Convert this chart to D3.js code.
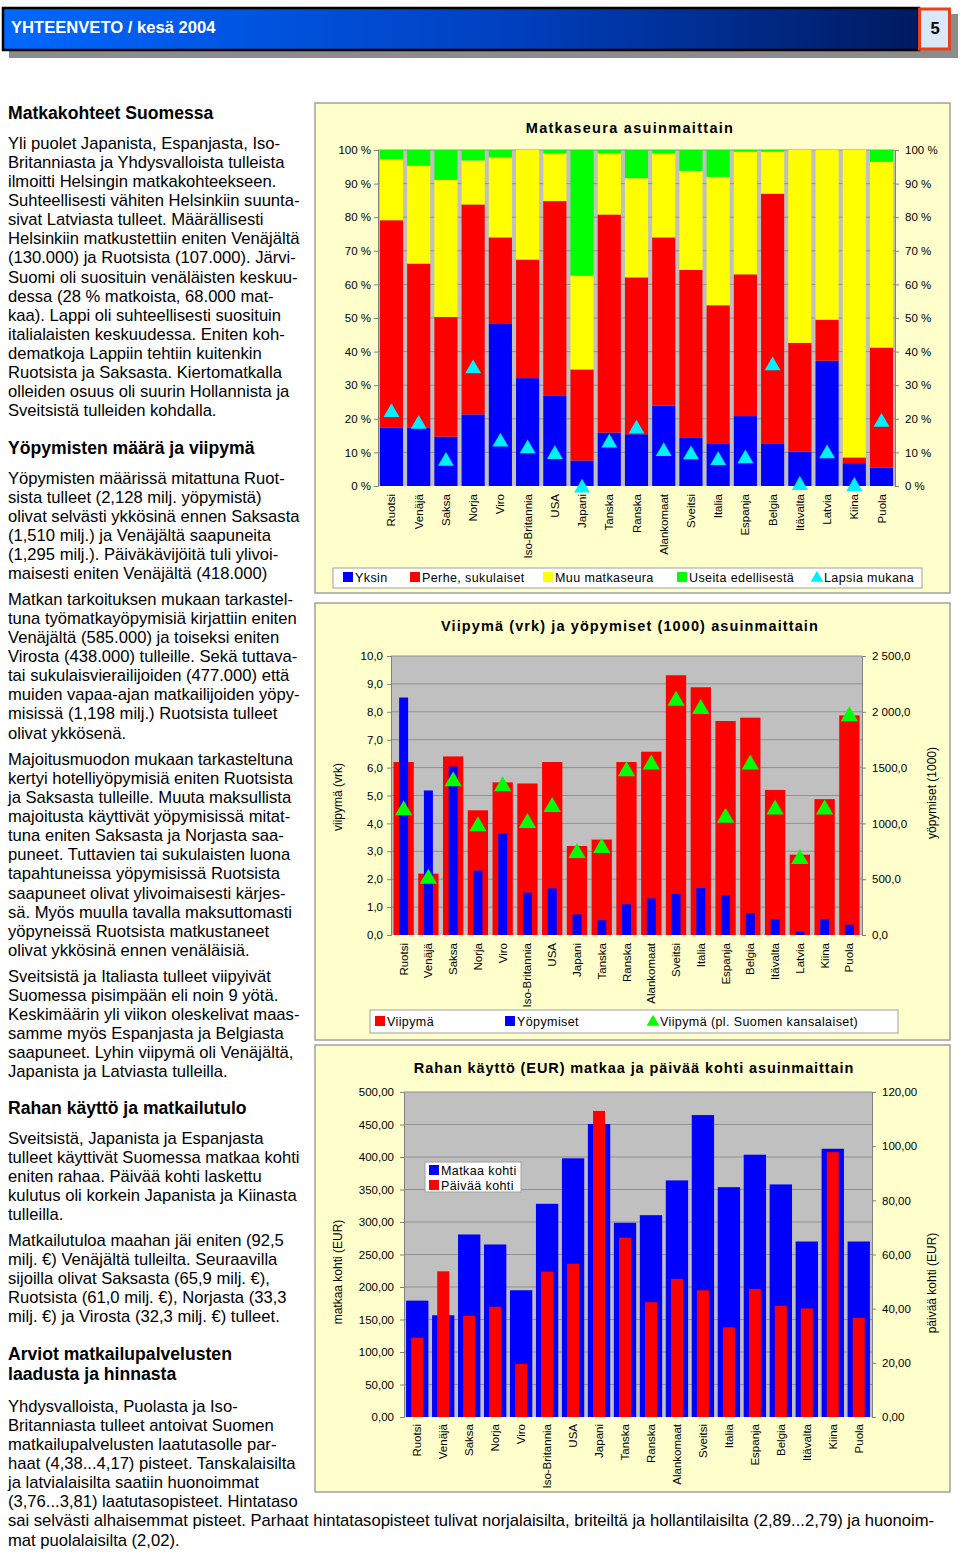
<!DOCTYPE html>
<html>
<head>
<meta charset="utf-8">
<script src="https://cdn.jsdelivr.net/npm/d3@7"></script>
<style>
  body { margin: 0; background: #fff; }
  svg text { font-family: "Liberation Sans", Arial, sans-serif; }
</style>
</head>
<body>
<svg id="page" width="960" height="1552"></svg>
<script>
// ---- data ----
const countries = ["Ruotsi", "Venäjä", "Saksa", "Norja", "Viro", "Iso-Britannia", "USA", "Japani", "Tanska",
  "Ranska", "Alankomaat", "Sveitsi", "Italia", "Espanja", "Belgia", "Itävalta", "Latvia", "Kiina", "Puola"];

// chart 1: travel company (%)
const yksin  = [17.3, 17.3, 14.7, 21.3, 48.2, 32.1, 26.8, 7.6, 15.9, 15.4, 23.9, 14.3, 12.5, 20.8, 12.5, 10.2, 37.3, 6.8, 5.5];
const perhe  = [61.8, 48.9, 35.6, 62.5, 25.8, 35.3, 58.0, 27.1, 64.9, 46.7, 50.1, 50.0, 41.3, 42.2, 74.5, 32.4, 12.2, 1.7, 35.7];
const muu    = [18.2, 29.1, 40.8, 13.1, 23.8, 32.6, 14.2, 27.9, 18.2, 29.5, 25.0, 29.5, 38.2, 36.5, 12.5, 57.4, 50.5, 91.5, 55.3];
const useita = [2.7, 4.7, 8.9, 3.1, 2.2, 0.0, 1.0, 37.4, 1.0, 8.4, 1.0, 6.2, 8.0, 0.5, 0.5, 0.0, 0.0, 0.0, 3.5];
const lapsia = [22.5, 19.0, 8.0, 35.5, 13.7, 11.7, 10.0, 0.0, 13.4, 17.6, 10.9, 9.9, 8.2, 8.7, 36.4, 0.8, 10.2, 0.5, 19.6];
const pctTicks = [0, 10, 20, 30, 40, 50, 60, 70, 80, 90, 100];

// chart 2: length of stay (days) and overnights (1000)
const viipyma   = [6.2, 2.2, 6.4, 4.47, 5.47, 5.43, 6.2, 3.19, 3.42, 6.2, 6.57, 9.31, 8.88, 7.67, 7.79, 5.2, 2.88, 4.87, 7.87];
const yopymiset = [2128, 1295, 1510, 577, 908, 380, 418, 185, 132, 275, 329, 367, 421, 356, 197, 143, 30, 143, 93];
const viipymaPl = [4.54, 2.09, 5.58, 3.97, 5.4, 4.09, 4.66, 3.01, 3.19, 5.94, 6.18, 8.47, 8.17, 4.27, 6.18, 4.57, 2.8, 4.57, 7.91];
const stayTicks = [0, 1, 2, 3, 4, 5, 6, 7, 8, 9, 10];
const stayTickLabels = ["0,0", "1,0", "2,0", "3,0", "4,0", "5,0", "6,0", "7,0", "8,0", "9,0", "10,0"];
const nightTicks = [0, 500, 1000, 1500, 2000, 2500];
const nightTickLabels = ["0,0", "500,0", "1000,0", "1500,0", "2 000,0", "2 500,0"];

// chart 3: spending (EUR), no Latvia
const countries3 = countries.filter(c => c !== "Latvia");
const matkaa = [179, 156.5, 280.8, 265.4, 195, 328, 398, 450.7, 298.8, 310.5, 364, 464.5, 353.6, 403.5, 357.8, 270, 412.7, 270];
const paivaa = [29.3, 53.8, 37.4, 40.7, 19.6, 53.7, 56.6, 113, 66.2, 42.4, 51, 46.8, 33.1, 47.3, 41.1, 40.1, 97.8, 36.6];
const eurTicks = [0, 50, 100, 150, 200, 250, 300, 350, 400, 450, 500];
const dayTicks = [0, 20, 40, 60, 80, 100, 120];

// page text
const headerText = "YHTEENVETO / kesä 2004";
const pageNo = "5";
const textBlocks = [
  { y: 119, bold: true, lines: ["Matkakohteet Suomessa"] },
  { y: 149, lines: ["Yli puolet Japanista, Espanjasta, Iso-", "Britanniasta ja Yhdysvalloista tulleista",
    "ilmoitti Helsingin matkakohteekseen.", "Suhteellisesti vähiten Helsinkiin suunta-",
    "sivat Latviasta tulleet. Määrällisesti", "Helsinkiin matkustettiin eniten Venäjältä",
    "(130.000) ja Ruotsista (107.000). Järvi-", "Suomi oli suosituin venäläisten keskuu-",
    "dessa (28 % matkoista, 68.000 mat-", "kaa). Lappi oli suhteellisesti suosituin",
    "italialaisten keskuudessa. Eniten koh-", "dematkoja Lappiin tehtiin kuitenkin",
    "Ruotsista ja Saksasta. Kiertomatkalla", "olleiden osuus oli suurin Hollannista ja",
    "Sveitsistä tulleiden kohdalla."] },
  { y: 454, bold: true, lines: ["Yöpymisten määrä ja viipymä"] },
  { y: 484, lines: ["Yöpymisten määrissä mitattuna Ruot-", "sista tulleet (2,128 milj. yöpymistä)",
    "olivat selvästi ykkösinä ennen Saksasta", "(1,510 milj.) ja Venäjältä saapuneita",
    "(1,295 milj.). Päiväkävijöitä tuli ylivoi-", "maisesti eniten Venäjältä (418.000)"] },
  { y: 605, lines: ["Matkan tarkoituksen mukaan tarkastel-", "tuna työmatkayöpymisiä kirjattiin eniten",
    "Venäjältä (585.000) ja toiseksi eniten", "Virosta (438.000) tulleille. Sekä tuttava-",
    "tai sukulaisvierailijoiden (477.000) että", "muiden vapaa-ajan matkailijoiden yöpy-",
    "misissä (1,198 milj.) Ruotsista tulleet", "olivat ykkösenä."] },
  { y: 765, lines: ["Majoitusmuodon mukaan tarkasteltuna", "kertyi hotelliyöpymisiä eniten Ruotsista",
    "ja Saksasta tulleille. Muuta maksullista", "majoitusta käyttivät yöpymisissä mitat-",
    "tuna eniten Saksasta ja Norjasta saa-", "puneet. Tuttavien tai sukulaisten luona",
    "tapahtuneissa yöpymisissä Ruotsista", "saapuneet olivat ylivoimaisesti kärjes-",
    "sä. Myös muulla tavalla maksuttomasti", "yöpyneissä Ruotsista matkustaneet",
    "olivat ykkösinä ennen venäläisiä."] },
  { y: 982, lines: ["Sveitsistä ja Italiasta tulleet viipyivät", "Suomessa pisimpään eli noin 9 yötä.",
    "Keskimäärin yli viikon oleskelivat maas-", "samme myös Espanjasta ja Belgiasta",
    "saapuneet. Lyhin viipymä oli Venäjältä,", "Japanista ja Latviasta tulleilla."] },
  { y: 1114, bold: true, lines: ["Rahan käyttö ja matkailutulo"] },
  { y: 1144, lines: ["Sveitsistä, Japanista ja Espanjasta", "tulleet käyttivät Suomessa matkaa kohti",
    "eniten rahaa. Päivää kohti laskettu", "kulutus oli korkein Japanista ja Kiinasta", "tulleilla."] },
  { y: 1246, lines: ["Matkailutuloa maahan jäi eniten (92,5", "milj. €) Venäjältä tulleilta. Seuraavilla",
    "sijoilla olivat Saksasta (65,9 milj. €),", "Ruotsista (61,0 milj. €), Norjasta (33,3",
    "milj. €) ja Virosta (32,3 milj. €) tulleet."] },
  { y: 1360, bold: true, lines: ["Arviot matkailupalvelusten", "laadusta ja hinnasta"] },
  { y: 1412, lines: ["Yhdysvalloista, Puolasta ja Iso-", "Britanniasta tulleet antoivat Suomen",
    "matkailupalvelusten laatutasolle par-", "haat (4,38...4,17) pisteet. Tanskalaisilta",
    "ja latvialaisilta saatiin huonoimmat", "(3,76...3,81) laatutasopisteet. Hintataso",
    "sai selvästi alhaisemmat pisteet. Parhaat hintatasopisteet tulivat norjalaisilta, briteiltä ja hollantilaisilta (2,89...2,79) ja huonoim-",
    "mat puolalaisilta (2,02)."] }
];

const C = { blue: "#0000ff", red: "#ff0000", yellow: "#ffff00", green: "#00ff00", cyan: "#00f0ff",
  panel: "#ffffcc", plot: "#c0c0c0", grid: "#909090" };

const svg = d3.select("#page");

// ---- header ----
const defs = svg.append("defs");
const grad = defs.append("linearGradient").attr("id", "hdr");
grad.append("stop").attr("offset", "0%").attr("stop-color", "#0068ff");
grad.append("stop").attr("offset", "55%").attr("stop-color", "#0040c0");
grad.append("stop").attr("offset", "100%").attr("stop-color", "#001a60");

svg.append("rect").attr("x", 9).attr("y", 14).attr("width", 949).attr("height", 44).attr("fill", "#8c8c8c");
svg.append("rect").attr("x", 3).attr("y", 8).attr("width", 916).attr("height", 42)
  .attr("fill", "url(#hdr)").attr("stroke", "#000").attr("stroke-width", 2.5);
svg.append("rect").attr("x", 919.5).attr("y", 9).attr("width", 30).attr("height", 40)
  .attr("fill", "#d8e8f8").attr("stroke", "#e8401a").attr("stroke-width", 3);
svg.append("text").attr("x", 11).attr("y", 33).attr("fill", "#fff").attr("font-weight", "bold")
  .attr("font-size", 16.6).text(headerText);
svg.append("text").attr("x", 935).attr("y", 34).attr("text-anchor", "middle").attr("font-weight", "bold")
  .attr("font-size", 16.6).text(pageNo);

// ---- text column ----
textBlocks.forEach(b => {
  b.lines.forEach((line, i) => {
    svg.append("text").attr("x", 8).attr("y", b.y + i * (b.bold ? 20 : 19.08))
      .attr("font-size", b.bold ? 17.6 : 16.6).attr("font-weight", b.bold ? "bold" : null)
      .attr("fill", "#000").text(line);
  });
});

// ---- helpers ----
function panel(x, y, w, h) {
  svg.append("rect").attr("x", x).attr("y", y).attr("width", w).attr("height", h)
    .attr("fill", C.panel).attr("stroke", "#a0a0a0").attr("stroke-width", 1.5);
}
function title(x, y, txt, spacing) {
  svg.append("text").attr("x", x).attr("y", y).attr("text-anchor", "middle")
    .attr("font-size", 14.5).attr("font-weight", "bold").attr("letter-spacing", spacing).text(txt);
}
function styleAxis(g) {
  g.selectAll("path.domain").attr("stroke", "#808080");
  g.selectAll(".tick line").attr("stroke", "#808080");
  g.selectAll("text").attr("font-size", 11.5).attr("fill", "#000")
    .style("font-family", "'Liberation Sans', Arial, sans-serif");
}
function plotArea(x, yScale, ticks) {
  const [x0, x1] = x.range();
  const [y0, y1] = yScale.range();
  svg.append("rect").attr("x", x0).attr("y", y1).attr("width", x1 - x0).attr("height", y0 - y1).attr("fill", C.plot);
  svg.append("g").selectAll("line").data(ticks.slice(1)).join("line")
    .attr("x1", x0).attr("x2", x1).attr("y1", d => yScale(d)).attr("y2", d => yScale(d))
    .attr("stroke", C.grid).attr("stroke-width", 1);
}
function catAxis(x, y, top) {
  const g = svg.append("g").attr("transform", `translate(0,${y})`)
    .call(d3.axisBottom(x).tickSize(0).tickPadding(0));
  g.select("path.domain").remove();
  g.selectAll("text").attr("transform", d => `translate(${x(d) + x.bandwidth() / 2 + 4},${top - y}) rotate(-90)`)
    .attr("x", 0).attr("y", 0).attr("dy", 0).attr("text-anchor", "end")
    .attr("font-size", 11.5).attr("fill", "#000").style("font-family", "'Liberation Sans', Arial, sans-serif");
  g.selectAll(".tick").attr("transform", null);
}
function vLabel(x, y, txt) {
  svg.append("text").attr("transform", `translate(${x},${y}) rotate(-90)`).attr("text-anchor", "middle")
    .attr("font-size", 12).text(txt);
}
function legendBox(x, y, w, h) {
  svg.append("rect").attr("x", x).attr("y", y).attr("width", w).attr("height", h)
    .attr("fill", "#fff").attr("stroke", "#a0a0a0");
}
function legendItem(x, y, color, label, tri) {
  if (tri) {
    svg.append("path").attr("d", d3.symbol(d3.symbolTriangle, 70)())
      .attr("transform", `translate(${x + 5},${y + 1})`).attr("fill", color);
  } else {
    svg.append("rect").attr("x", x).attr("y", y - 5).attr("width", 10).attr("height", 10).attr("fill", color);
  }
  svg.append("text").attr("x", x + 12).attr("y", y + 5).attr("font-size", 12.5).attr("letter-spacing", 0.4).text(label);
}

// ---- chart 1: Matkaseura ----
panel(315, 103, 635, 490);
title(630, 133, "Matkaseura asuinmaittain", 1.3);
const x1 = d3.scaleBand().domain(countries).range([378, 895]).paddingInner(0.15).paddingOuter(0.07);
const y1 = d3.scaleLinear().domain([0, 100]).range([486, 150]);
plotArea(x1, y1, pctTicks);

const stackData = countries.map((c, i) => ({ c, yksin: yksin[i], perhe: perhe[i], muu: muu[i], useita: useita[i] }));
const keys1 = ["yksin", "perhe", "muu", "useita"];
const cols1 = [C.blue, C.red, C.yellow, C.green];
const series1 = d3.stack().keys(keys1)(stackData);
svg.append("g").selectAll("g").data(series1).join("g").attr("fill", (d, i) => cols1[i])
  .selectAll("rect").data(d => d).join("rect")
  .attr("x", d => x1(d.data.c)).attr("width", x1.bandwidth())
  .attr("y", d => y1(Math.min(100, d[1]))).attr("height", d => y1(d[0]) - y1(Math.min(100, d[1])));

svg.append("g").selectAll("path").data(countries).join("path")
  .attr("d", d3.symbol(d3.symbolTriangle, 110)())
  .attr("transform", (d, i) => `translate(${x1(d) + x1.bandwidth() / 2},${y1(lapsia[i]) + 2})`)
  .attr("fill", C.cyan);

const fmtPct = d => d + " %";
styleAxis(svg.append("g").attr("transform", "translate(378,0)")
  .call(d3.axisLeft(y1).tickValues(pctTicks).tickFormat(fmtPct).tickSize(4).tickPadding(3)));
styleAxis(svg.append("g").attr("transform", "translate(895,0)")
  .call(d3.axisRight(y1).tickValues(pctTicks).tickFormat(fmtPct).tickSize(4).tickPadding(6)));
catAxis(x1, 486, 494);

legendBox(333, 568, 589, 20);
legendItem(343, 577, C.blue, "Yksin");
legendItem(410, 577, C.red, "Perhe, sukulaiset");
legendItem(543, 577, C.yellow, "Muu matkaseura");
legendItem(677, 577, C.green, "Useita edellisestä");
legendItem(812, 577, C.cyan, "Lapsia mukana", true);

// ---- chart 2: Viipymä ja yöpymiset ----
panel(315, 603, 635, 437);
title(630, 631, "Viipymä (vrk) ja yöpymiset (1000) asuinmaittain", 1.1);
const x2 = d3.scaleBand().domain(countries).range([391, 862]).paddingInner(0.18).paddingOuter(0.1);
const y2 = d3.scaleLinear().domain([0, 10]).range([935, 656]);
const y2r = d3.scaleLinear().domain([0, 2500]).range([935, 656]);
plotArea(x2, y2, stayTicks);

svg.append("g").selectAll("rect").data(countries).join("rect")
  .attr("x", d => x2(d)).attr("width", x2.bandwidth())
  .attr("y", (d, i) => y2(viipyma[i])).attr("height", (d, i) => y2(0) - y2(viipyma[i]))
  .attr("fill", C.red);
const bw2 = 9;
svg.append("g").selectAll("rect").data(countries).join("rect")
  .attr("x", d => x2(d) + x2.bandwidth() / 2 - bw2 / 2).attr("width", bw2)
  .attr("y", (d, i) => y2r(yopymiset[i])).attr("height", (d, i) => y2r(0) - y2r(yopymiset[i]))
  .attr("fill", C.blue);
svg.append("g").selectAll("path").data(countries).join("path")
  .attr("d", d3.symbol(d3.symbolTriangle, 130)())
  .attr("transform", (d, i) => `translate(${x2(d) + x2.bandwidth() / 2},${y2(viipymaPl[i]) + 2})`)
  .attr("fill", C.green);

styleAxis(svg.append("g").attr("transform", "translate(391,0)")
  .call(d3.axisLeft(y2).tickValues(stayTicks).tickFormat((d, i) => stayTickLabels[i]).tickSize(4).tickPadding(4)));
styleAxis(svg.append("g").attr("transform", "translate(862,0)")
  .call(d3.axisRight(y2r).tickValues(nightTicks).tickFormat((d, i) => nightTickLabels[i]).tickSize(4).tickPadding(6)));
catAxis(x2, 935, 943);
vLabel(342, 797, "viipymä (vrk)");
vLabel(936, 793, "yöpymiset (1000)");

legendBox(370, 1010, 528, 23);
legendItem(375, 1021, C.red, "Viipymä");
legendItem(505, 1021, C.blue, "Yöpymiset");
legendItem(648, 1021, C.green, "Viipymä (pl. Suomen kansalaiset)", true);

// ---- chart 3: Rahan käyttö ----
panel(315, 1045, 635, 447);
title(634, 1073, "Rahan käyttö (EUR) matkaa ja päivää kohti asuinmaittain", 0.9);
const x3 = d3.scaleBand().domain(countries3).range([404, 872]).paddingInner(0.14).paddingOuter(0.08);
const y3 = d3.scaleLinear().domain([0, 500]).range([1417, 1092]);
const y3r = d3.scaleLinear().domain([0, 120]).range([1417, 1092]);
plotArea(x3, y3, eurTicks);

svg.append("g").selectAll("rect").data(countries3).join("rect")
  .attr("x", d => x3(d)).attr("width", x3.bandwidth())
  .attr("y", (d, i) => y3(matkaa[i])).attr("height", (d, i) => y3(0) - y3(matkaa[i]))
  .attr("fill", C.blue);
const bw3 = 12;
svg.append("g").selectAll("rect").data(countries3).join("rect")
  .attr("x", d => x3(d) + x3.bandwidth() / 2 - bw3 / 2).attr("width", bw3)
  .attr("y", (d, i) => y3r(paivaa[i])).attr("height", (d, i) => y3r(0) - y3r(paivaa[i]))
  .attr("fill", C.red);

const fmt2 = d => d3.format(".2f")(d).replace(".", ",");
styleAxis(svg.append("g").attr("transform", "translate(404,0)")
  .call(d3.axisLeft(y3).tickValues(eurTicks).tickFormat(fmt2).tickSize(4).tickPadding(6)));
styleAxis(svg.append("g").attr("transform", "translate(872,0)")
  .call(d3.axisRight(y3r).tickValues(dayTicks).tickFormat(fmt2).tickSize(4).tickPadding(6)));
catAxis(x3, 1417, 1424);
vLabel(342, 1272, "matkaa kohti (EUR)");
vLabel(936, 1283, "päivää kohti (EUR)");

legendBox(425, 1162, 96, 30);
legendItem(429, 1170, C.blue, "Matkaa kohti");
legendItem(429, 1185, C.red, "Päivää kohti");
</script>
</body>
</html>
